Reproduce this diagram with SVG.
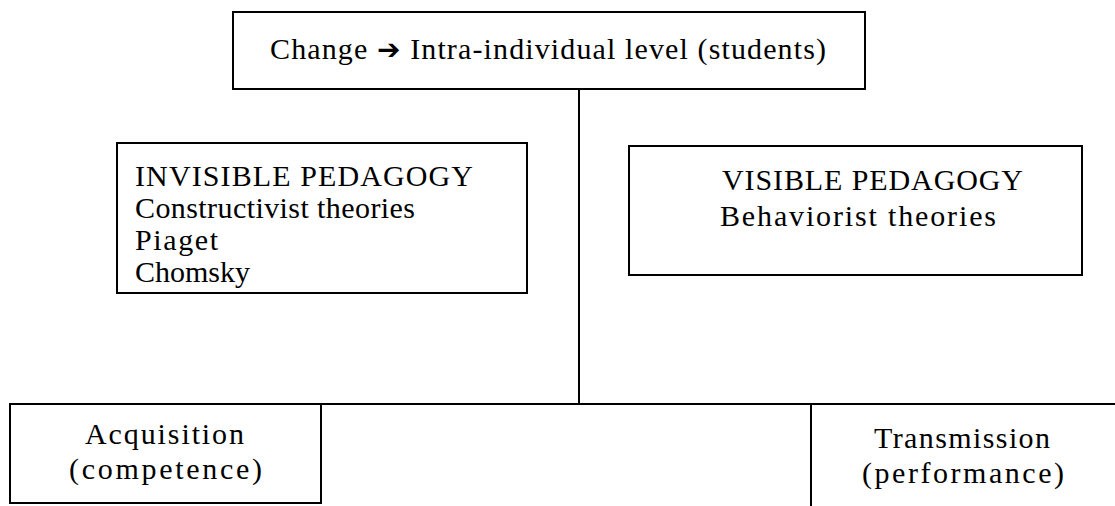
<svg xmlns="http://www.w3.org/2000/svg" width="1115" height="506" viewBox="0 0 1115 506">
  <style>
    .box { fill: #ffffff; stroke: #000000; stroke-width: 2; }
    .edge { fill: none; stroke: #000000; stroke-width: 2; }
    .t { font-family: "Liberation Serif", "Times New Roman", serif; font-size: 30px; fill: #000000; }
    .arrow { font-family: "DejaVu Sans", sans-serif; font-size: 28px; font-weight: bold; }
  </style>
  <rect width="1115" height="506" fill="#ffffff"/>

  <!-- connectors: trunk from the top box down to the split line -->
  <g id="connectors">
    <line class="edge" x1="579" y1="89" x2="579" y2="404"/>
    <line class="edge" x1="321" y1="404" x2="811" y2="404"/>
  </g>

  <g id="node-change">
    <rect class="box" x="233" y="12" width="632" height="77"/>
    <text class="t" x="270" y="59" textLength="556" lengthAdjust="spacing">Change <tspan class="arrow">➔</tspan> Intra-individual level (students)</text>
  </g>

  <g id="node-invisible">
    <rect class="box" x="117" y="143" width="410" height="150"/>
    <text class="t" x="135" y="186" textLength="338" lengthAdjust="spacing">INVISIBLE PEDAGOGY</text>
    <text class="t" x="135" y="218" textLength="280" lengthAdjust="spacing">Constructivist theories</text>
    <text class="t" x="135" y="250" textLength="83" lengthAdjust="spacing">Piaget</text>
    <text class="t" x="135" y="282" textLength="115" lengthAdjust="spacing">Chomsky</text>
  </g>

  <g id="node-visible">
    <rect class="box" x="629" y="146" width="453" height="129"/>
    <text class="t" x="722" y="190" textLength="301" lengthAdjust="spacing">VISIBLE PEDAGOGY</text>
    <text class="t" x="720" y="226" textLength="276" lengthAdjust="spacing">Behaviorist theories</text>
  </g>

  <g id="node-acquisition">
    <rect class="box" x="10" y="404" width="311" height="99"/>
    <text class="t" x="85" y="444" textLength="159" lengthAdjust="spacing">Acquisition</text>
    <text class="t" x="69" y="479" textLength="193" lengthAdjust="spacing">(competence)</text>
  </g>

  <g id="node-transmission">
    <path class="edge" d="M811 506 V404 H1115"/>
    <text class="t" x="874" y="448" textLength="176" lengthAdjust="spacing">Transmission</text>
    <text class="t" x="862" y="483" textLength="202" lengthAdjust="spacing">(performance)</text>
  </g>
</svg>
